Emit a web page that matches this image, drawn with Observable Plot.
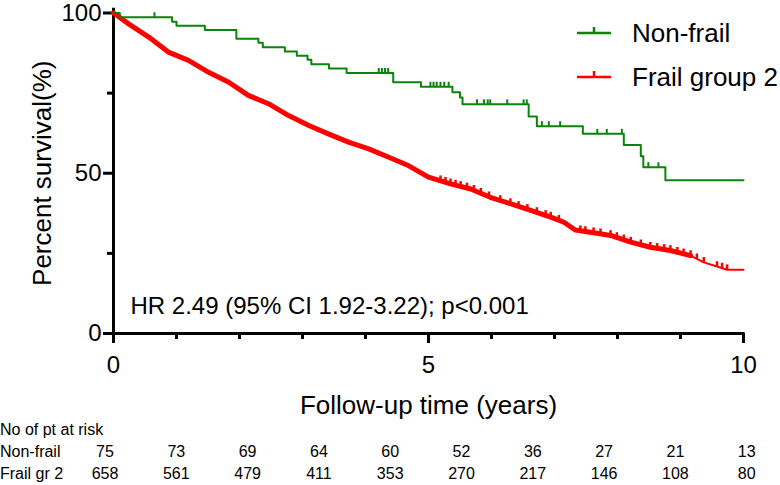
<!DOCTYPE html>
<html>
<head>
<meta charset="utf-8">
<script src="https://cdn.jsdelivr.net/npm/d3@7"></script>
<script src="https://cdn.jsdelivr.net/npm/@observablehq/plot@0.6"></script>
<style>
  html, body { margin: 0; padding: 0; background: #fff; }
  #wrap { position: relative; width: 780px; height: 485px; font-family: "Liberation Sans", Arial, sans-serif; color: #000; overflow: hidden; }
  .abs { position: absolute; white-space: nowrap; }
</style>
</head>
<body>
<div id="wrap"></div>
<script>
// ---- data ----
const groups = ["Non-frail", "Frail group 2"];
const groupColors = ["#0a840a", "#ff0000"];

// Non-frail Kaplan-Meier steps (time in years, survival %)
const nonFrailTime = [0, 0.10, 0.93, 1.00, 1.45, 1.95, 2.30, 2.37, 2.72, 2.91, 3.08, 3.14, 3.42, 3.70, 4.44, 4.88, 5.38, 5.50, 5.54, 6.59, 6.72, 7.45, 8.10, 8.37, 8.41, 8.76, 10.0];
const nonFrailSurv = [100, 98.7, 97.3, 96.0, 94.7, 92.0, 90.7, 89.3, 88.0, 86.7, 85.4, 84.0, 82.7, 81.3, 78.4, 77.0, 75.3, 73.6, 71.5, 67.7, 64.7, 62.3, 58.8, 55.3, 51.9, 47.8, 47.8];
const nonFrailCensor = [0.65, 4.21, 4.26, 4.31, 4.36, 5.03, 5.08, 5.13, 5.19, 5.25, 5.32, 5.77, 5.88, 5.94, 5.98, 6.25, 6.51, 6.56, 6.80, 6.91, 7.09, 7.68, 7.83, 8.07, 8.49, 8.65];

// Frail group 2 survival curve
const frailTime = [0, 0.03, 0.24, 0.56, 0.87, 1.19, 1.51, 1.83, 2.14, 2.46, 2.78, 3.10, 3.41, 3.73, 4.05, 4.37, 4.68, 5.00, 5.35, 5.67, 5.98, 6.30, 6.62, 6.94, 7.15, 7.33, 7.57, 7.89, 8.21, 8.52, 8.84, 9.16, 9.37, 9.58, 9.74, 10.0];
const frailSurv = [100, 99.6, 96.6, 92.5, 87.8, 85.2, 81.5, 78.4, 74.3, 71.7, 68.0, 64.9, 62.3, 59.7, 57.6, 55.0, 52.4, 48.8, 46.7, 45.1, 42.5, 40.5, 38.4, 36.3, 34.7, 32.3, 31.6, 30.6, 28.5, 26.9, 25.9, 24.3, 22.2, 20.9, 19.9, 19.9];
const frailCensor = [5.19, 5.27, 5.35, 5.43, 5.51, 5.61, 5.72, 5.83, 5.96, 6.14, 6.30, 6.43, 6.57, 6.72, 6.86, 6.94, 7.07, 7.41, 7.49, 7.62, 7.73, 7.89, 7.99, 8.10, 8.21, 8.37, 8.52, 8.63, 8.74, 8.84, 8.95, 9.05, 9.16, 9.26, 9.37, 9.58, 9.66, 9.74];

const xMajorTicks = [0, 5, 10];
const xMinorTicks = [1, 2, 3, 4, 6, 7, 8, 9];
const yMajorTicks = [0, 50, 100];
const yMinorTicks = [25, 75];

const xLabel = "Follow-up time (years)";
const yLabel = "Percent survival(%)";
const hrText = "HR 2.49 (95% CI 1.92-3.22); p<0.001";

const riskTitle = "No of pt at risk";
const riskRowLabels = ["Non-frail", "Frail gr 2"];
const riskNonFrail = [75, 73, 69, 64, 60, 52, 36, 27, 21, 13];
const riskFrail = [658, 561, 479, 411, 353, 270, 217, 146, 108, 80];

// ---- build tables ----
const green = nonFrailTime.map((t, i) => ({t, s: nonFrailSurv[i]}));
const red = frailTime.map((t, i) => ({t, s: frailSurv[i]}));
function stepAt(rows, t) { let s = rows[0].s; for (const r of rows) { if (r.t <= t) s = r.s; } return s; }
function linAt(rows, t) {
  for (let i = 1; i < rows.length; i++) {
    if (rows[i].t >= t) { const a = rows[i-1], b = rows[i]; const f = (t - a.t) / (b.t - a.t || 1); return a.s + f * (b.s - a.s); }
  }
  return rows[rows.length-1].s;
}
const greenCens = nonFrailCensor.map(t => ({t, s: stepAt(green, t)}));
const redCens = frailCensor.map(t => ({t, s: linAt(red, t)}));

const tickSym = { draw(ctx, size) { const h = Math.sqrt(size); ctx.moveTo(0, 0); ctx.lineTo(0, -h); } };
const font = "Liberation Sans, Arial, sans-serif";

const chart = Plot.plot({
  width: 780, height: 420,
  marginLeft: 113, marginRight: 37, marginTop: 12.5, marginBottom: 87,
  x: {domain: [0, 10]},
  y: {domain: [0, 100]},
  style: {fontFamily: font, background: "white", color: "black", overflow: "visible"},
  marks: [
    Plot.axisX({ticks: xMajorTicks, tickSize: 10, tickPadding: 12, fontSize: 24, strokeWidth: 3, label: null, tickFormat: d => String(d)}),
    Plot.axisX({ticks: xMinorTicks, tickSize: 6, strokeWidth: 3, label: null, tickFormat: () => ""}),
    Plot.axisY({ticks: yMajorTicks, tickSize: 10, tickPadding: 2, fontSize: 24, strokeWidth: 3, label: null, tickFormat: d => String(d)}),
    Plot.axisY({ticks: yMinorTicks, tickSize: 6, strokeWidth: 3, label: null, tickFormat: () => ""}),
    Plot.ruleY([0], {stroke: "black", strokeWidth: 3, strokeLinecap: "square"}),
    Plot.ruleX([0], {stroke: "black", strokeWidth: 3, strokeLinecap: "square", y1: 0, y2: 101}),
    // frail group
    Plot.line(red, {x: "t", y: "s", stroke: groupColors[1], strokeWidth: 2}),
    Plot.line(red.filter(d => d.t <= 9.2), {x: "t", y: "s", stroke: groupColors[1], strokeWidth: 5, strokeLinejoin: "round"}),
    Plot.dot(redCens, {x: "t", y: "s", symbol: tickSym, r: 3, fill: "none", stroke: groupColors[1], strokeWidth: 2.5}),
    // non-frail
    Plot.line(green, {x: "t", y: "s", curve: "step-after", stroke: groupColors[0], strokeWidth: 2}),
    Plot.dot(greenCens, {x: "t", y: "s", symbol: tickSym, r: 2.8, fill: "none", stroke: groupColors[0], strokeWidth: 2}),
    // annotations
    Plot.text([hrText], {frameAnchor: "bottom-left", textAnchor: "start", lineAnchor: "bottom", dx: 17, dy: -20, fontSize: 24, fill: "black"}),
    Plot.text([xLabel], {frameAnchor: "bottom", textAnchor: "middle", lineAnchor: "middle", dy: 72, fontSize: 26, fill: "black"}),
    Plot.text([yLabel], {frameAnchor: "left", textAnchor: "middle", lineAnchor: "middle", rotate: -90, dx: -71, fontSize: 26, fill: "black"})
  ]
});

const wrap = document.getElementById("wrap");
chart.style.position = "absolute";
chart.style.left = "0px";
chart.style.top = "0px";
wrap.appendChild(chart);

// legend
groups.forEach((g, i) => {
  const cy = 33 + i * 44;
  const sw = document.createElementNS("http://www.w3.org/2000/svg", "svg");
  sw.setAttribute("width", 40); sw.setAttribute("height", 14);
  sw.setAttribute("class", "abs");
  sw.style.left = "575px"; sw.style.top = (cy - 10) + "px";
  sw.innerHTML = `<line x1="2" x2="36" y1="10" y2="10" stroke="${groupColors[i]}" stroke-width="2.5"/><line x1="19" x2="19" y1="10" y2="4" stroke="${groupColors[i]}" stroke-width="2.5"/>`;
  wrap.appendChild(sw);
  const t = document.createElement("div");
  t.className = "abs";
  t.textContent = g;
  t.style.left = "632px"; t.style.top = (cy - 15) + "px";
  t.style.fontSize = "26px"; t.style.lineHeight = "30px";
  wrap.appendChild(t);
});

// at-risk table
function addText(txt, left, centerY, size, align) {
  const d = document.createElement("div");
  d.className = "abs";
  d.textContent = txt;
  d.style.fontSize = size + "px";
  d.style.lineHeight = "20px";
  d.style.top = (centerY - 10) + "px";
  if (align === "center") { d.style.left = (left - 40) + "px"; d.style.width = "80px"; d.style.textAlign = "center"; }
  else d.style.left = left + "px";
  wrap.appendChild(d);
}
addText(riskTitle, 0, 430, 16, "left");
[riskNonFrail, riskFrail].forEach((row, r) => {
  const cy = 452 + r * 22;
  addText(riskRowLabels[r], 0, cy, 16, "left");
  row.forEach((v, i) => addText(String(v), 105 + i * 71.3, cy, 16, "center"));
});
</script>
</body>
</html>
